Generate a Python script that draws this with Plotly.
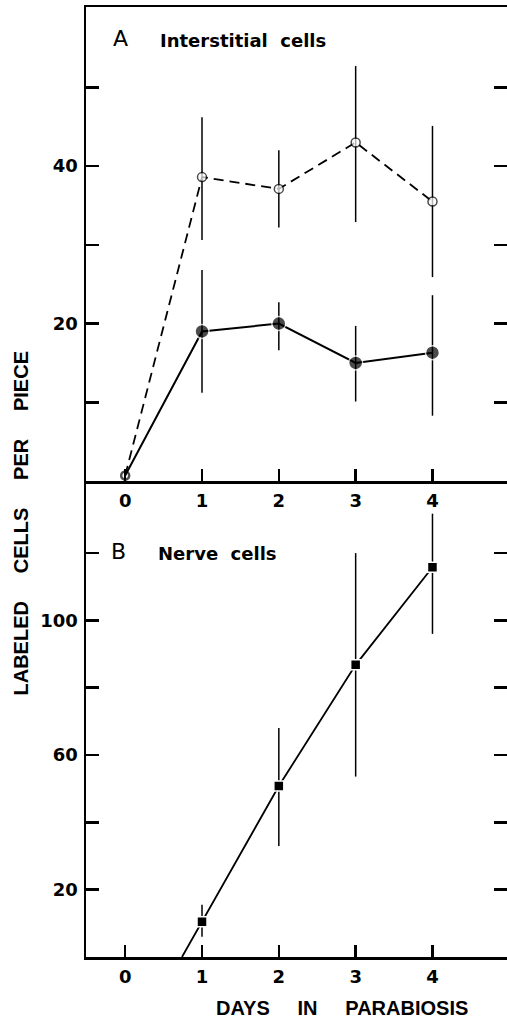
import plotly.graph_objects as go

# ---------------- data ----------------
days = [0, 1, 2, 3, 4]
open_vals = [0.7, 38.6, 37.1, 43.0, 35.5]
open_err_up = [0, 7.6, 4.9, 9.7, 9.6]
open_err_down = [0, 8.0, 4.9, 10.1, 9.6]

filled_vals = [0.7, 19.0, 20.0, 15.0, 16.3]
filled_err_up = [0, 7.8, 2.7, 4.7, 7.3]
filled_err_down = [0, 7.8, 3.4, 4.9, 8.0]

nerve_days = [1, 2, 3, 4]
nerve_vals = [10.5, 50.8, 86.8, 115.8]
nerve_err_up = [5.0, 17.2, 33.2, 15.9]
nerve_err_down = [4.5, 17.8, 33.2, 19.8]

x_ticks = [0, 1, 2, 3, 4]
a_ticks = [10, 20, 30, 40, 50]
a_labels = ["", "20", "", "40", ""]
b_ticks = [20, 40, 60, 80, 100, 120]
b_labels = ["20", "", "60", "", "100", ""]

# extension of the nerve-cell line down to zero along the first segment
x_int = nerve_days[0] - nerve_vals[0] * (nerve_days[1] - nerve_days[0]) / (nerve_vals[1] - nerve_vals[0])
nerve_line_x = [x_int] + nerve_days
nerve_line_y = [0] + nerve_vals

# ---------------- figure ----------------
W, H = 507, 1020
ML, MR, MT, MB = 86, 0, 7, 63
split = 0.501

BOLD = dict(family="DejaVu Sans", size=18, color="black", weight="bold")

fig = go.Figure()

fig.add_trace(go.Scatter(
    x=days, y=open_vals, mode="lines+markers", xaxis="x", yaxis="y",
    line=dict(color="black", width=1.8, dash="10px,6px"),
    marker=dict(symbol="circle", color="white", size=[8, 9, 9, 9, 9],
                line=dict(color="black", width=[2.5, 1.5, 1.5, 1.5, 1.5])),
    error_y=dict(type="data", array=open_err_up, arrayminus=open_err_down,
                 color="black", thickness=1.5, width=0),
    showlegend=False, cliponaxis=False, hoverinfo="skip"))

fig.add_trace(go.Scatter(
    x=days, y=filled_vals, mode="lines+markers", xaxis="x", yaxis="y",
    line=dict(color="black", width=2),
    marker=dict(symbol="circle", color="black", size=[0, 14, 14, 14, 14],
                line=dict(color="white", width=1.5)),
    error_y=dict(type="data", array=filled_err_up, arrayminus=filled_err_down,
                 color="black", thickness=1.5, width=0),
    showlegend=False, cliponaxis=False, hoverinfo="skip"))

fig.add_trace(go.Scatter(
    x=nerve_line_x, y=nerve_line_y, mode="lines", xaxis="x2", yaxis="y2",
    line=dict(color="black", width=1.8), showlegend=False, hoverinfo="skip"))

fig.add_trace(go.Scatter(
    x=nerve_days, y=nerve_vals, mode="markers", xaxis="x2", yaxis="y2",
    marker=dict(symbol="square", color="black", size=10,
                line=dict(color="white", width=1.5)),
    error_y=dict(type="data", array=nerve_err_up, arrayminus=nerve_err_down,
                 color="black", thickness=1.5, width=0),
    showlegend=False, hoverinfo="skip"))

xr = [-0.51, 4.97]
common_x = dict(range=xr, tickvals=x_ticks, ticks="inside", ticklen=12, tickwidth=2.5,
                tickcolor="black", showline=True, linewidth=2.5, linecolor="black",
                showgrid=False, zeroline=False, tickfont=BOLD, ticklabelstandoff=2,
                automargin=False)
common_y = dict(ticks="inside", ticklen=13, tickwidth=2.5, tickcolor="black",
                showline=True, linewidth=2.5, linecolor="black", mirror="ticks",
                showgrid=False, zeroline=False, tickfont=BOLD, ticklabelstandoff=2,
                automargin=False)

fig.update_layout(
    width=W, height=H,
    margin=dict(l=ML, r=MR, t=MT, b=MB, pad=0),
    paper_bgcolor="white", plot_bgcolor="white",
    hovermode=False,
    xaxis=dict(domain=[0, 1], anchor="y", mirror=True, **common_x),
    yaxis=dict(domain=[split, 1], anchor="x", range=[0, 60.2],
               tickvals=a_ticks, ticktext=a_labels, **common_y),
    xaxis2=dict(domain=[0, 1], anchor="y2", mirror=False, **common_x),
    yaxis2=dict(domain=[0, split], anchor="x2", range=[0, 141.4],
                tickvals=b_ticks, ticktext=b_labels, **common_y),
)

pw = W - ML - MR
ph = H - MT - MB


def px(x):
    return (x - ML) / pw


def py(y):
    return (H - MB - y) / ph


NB = "\u00a0"
TITLE = dict(family="Liberation Sans", size=20, color="black", weight="bold")
LETTER = dict(family="DejaVu Sans", size=22, color="black")
LABEL = dict(family="DejaVu Sans", size=18, color="black", weight="bold")

ann = [
    dict(text="A", x=px(111), y=py(38), xanchor="left", yanchor="middle", font=LETTER),
    dict(text="Interstitial" + NB * 2 + "cells", x=px(158), y=py(40),
         xanchor="left", yanchor="middle", font=LABEL),
    dict(text="B", x=px(109), y=py(551), xanchor="left", yanchor="middle", font=LETTER),
    dict(text="Nerve" + NB * 2 + "cells", x=px(156), y=py(553),
         xanchor="left", yanchor="middle", font=LABEL),
    dict(text="DAYS" + NB * 5 + "IN" + NB * 5 + "PARABIOSIS", x=px(341.5), y=py(1008),
         xanchor="center", yanchor="middle", font=TITLE),
    dict(text="LABELED" + NB * 5 + "CELLS" + NB * 5 + "PER" + NB * 5 + "PIECE",
         x=px(20.5), y=py(523), xanchor="center", yanchor="middle",
         textangle=-90, font=TITLE),
]
for a in ann:
    a.update(xref="paper", yref="paper", showarrow=False)
fig.update_layout(annotations=ann)

fig.write_html(
    "out.html",
    config={"displayModeBar": False, "staticPlot": True},
    post_script="document.body.style.margin='0';document.body.style.overflow='hidden';",
)
